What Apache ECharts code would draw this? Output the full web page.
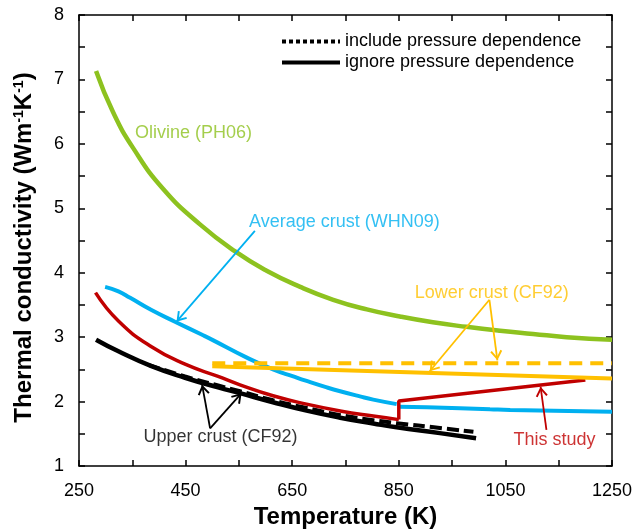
<!DOCTYPE html>
<html>
<head>
<meta charset="utf-8">
<script src="https://cdn.jsdelivr.net/npm/echarts@6/dist/echarts.min.js"></script>
<style>
  html, body { margin: 0; padding: 0; background: #fff; }
  #chart { width: 634px; height: 531px; }
</style>
</head>
<body>
<div id="chart"></div>
<script>
// temperature (K) / conductivity (W m-1 K-1)
const olivineT = [282, 314, 352, 408, 477, 543, 602, 665, 727, 790, 852, 914, 977, 1040, 1102, 1165, 1250];
const olivineK = [7.13, 6.49, 5.93, 5.30, 4.75, 4.33, 4.03, 3.78, 3.58, 3.43, 3.32, 3.23, 3.16, 3.10, 3.05, 3.0, 2.96];

const avgLowT = [299, 324, 346, 386, 430, 480, 502, 563, 614, 652, 677, 715, 740, 777, 802, 846];
const avgLowK = [3.78, 3.71, 3.61, 3.42, 3.24, 3.04, 2.95, 2.69, 2.50, 2.39, 2.32, 2.22, 2.16, 2.08, 2.03, 1.96];
const avgHighT = [850, 902, 965, 1021, 1059, 1250];
const avgHighK = [1.92, 1.91, 1.896, 1.88, 1.87, 1.843];

const studyLowT = [281, 324, 386, 449, 511, 552, 614, 677, 740, 802, 850];
const studyLowK = [3.69, 3.25, 2.85, 2.58, 2.39, 2.26, 2.09, 1.96, 1.855, 1.775, 1.72];
const studyHighT = [850, 850, 1200];
const studyHighK = [1.72, 2.01, 2.335];

const upperT = [282, 324, 386, 449, 511, 552, 614, 677, 740, 802, 846, 927, 995];
const upperK = [2.96, 2.78, 2.55, 2.37, 2.22, 2.13, 1.99, 1.86, 1.75, 1.66, 1.60, 1.51, 1.43];
const upperPT = [380, 449, 511, 552, 614, 677, 740, 802, 846, 927, 990];
const upperPK = [2.57, 2.39, 2.25, 2.16, 2.02, 1.90, 1.79, 1.71, 1.665, 1.59, 1.53];

const lowerT = [500, 1250];
const lowerK = [2.55, 2.36];
const lowerPT = [500, 1250];
const lowerPK = [2.595, 2.595];

const xTicks = [250, 450, 650, 850, 1050, 1250];
const yTicks = [1, 2, 3, 4, 5, 6, 7, 8];

// annotation anchors (data coords)
const noteText = ['Olivine (PH06)', 'Average crust (WHN09)', 'Lower crust (CF92)', 'Upper crust (CF92)', 'This study'];
const noteAt = [[355, 6.17], [569, 4.79], [880, 3.69], [371, 1.455], [1065, 1.404]];
const noteColor = ['#8DC21F', '#00B0F0', '#FFC000', '#000000', '#C00000'];
const arrows = [
  [[580, 4.65], [433, 3.24], '#00B0F0'],
  [[1020, 3.58], [908, 2.47], '#FFC000'],
  [[1020, 3.58], [1035, 2.64], '#FFC000'],
  [[496, 1.585], [481, 2.26], '#000000'],
  [[496, 1.585], [555, 2.13], '#000000'],
  [[1127, 1.56], [1116, 2.23], '#C00000']
];

const zip = (xs, ys) => xs.map((x, i) => [x, ys[i]]);
const font = 'Liberation Sans, Arial, sans-serif';
const arrowHead = 'path://M5,-10 L5.01,-10 L5,-9.99 Z M5,0 L10,9 L8.6,10 L5,3.4 L1.4,10 L0,9 Z';

function curve(name, data, color, width, extra) {
  return Object.assign({
    name: name, type: 'line', data: data, symbol: 'none', smooth: 0.5,
    lineStyle: { color: color, width: width }, itemStyle: { color: color },
    silent: true, animation: false
  }, extra || {});
}

const axisLine = { lineStyle: { color: '#000', width: 1.5 } };
const axisTick = { inside: true, length: 6, lineStyle: { color: '#000', width: 1.5 } };

const chart = echarts.init(document.getElementById('chart'));
chart.setOption({
  textStyle: { fontFamily: font },
  grid: { left: 79, right: 22, top: 15, bottom: 65, containLabel: false, outerBoundsMode: 'none' },
  legend: {
    data: ['include pressure dependence', 'ignore pressure dependence'],
    orient: 'vertical', left: 275, top: 26,
    itemWidth: 58, itemHeight: 14, itemGap: 0,
    lineStyle: { width: 4 },
    itemStyle: { opacity: 0 },
    textStyle: { fontSize: 18, color: '#000', lineHeight: 21, fontFamily: font },
    selectedMode: false
  },
  xAxis: [{
    type: 'value', min: 250, max: 1250, interval: 100, position: 'bottom',
    name: 'Temperature (K)', nameLocation: 'middle', nameGap: 37,
    nameTextStyle: { fontSize: 24, fontWeight: 'bold', color: '#000', fontFamily: font },
    axisLine: axisLine, axisTick: axisTick, splitLine: { show: false },
    axisLabel: { fontSize: 18, color: '#000', margin: 16,
      formatter: v => xTicks.indexOf(v) >= 0 ? String(v) : '' }
  }, {
    type: 'value', min: 250, max: 1250, interval: 100, position: 'top',
    axisLine: axisLine, axisTick: axisTick, splitLine: { show: false },
    axisLabel: { show: false }
  }],
  yAxis: [{
    type: 'value', min: 1, max: 8, interval: 0.5, position: 'left',
    name: 'Thermal conductivity (Wm{sup|-1}K{sup|-1})', nameLocation: 'middle', nameGap: 43,
    nameTextStyle: {
      fontSize: 24, fontWeight: 'bold', color: '#000', fontFamily: font,
      padding: [0, 14, 0, 0],
      rich: { sup: { fontSize: 14, fontWeight: 'bold', color: '#000', verticalAlign: 'top', fontFamily: font } }
    },
    axisLine: axisLine, axisTick: axisTick, splitLine: { show: false },
    axisLabel: { fontSize: 18, color: '#000', margin: 15,
      formatter: v => yTicks.indexOf(v) >= 0 ? String(v) : '' }
  }, {
    type: 'value', min: 1, max: 8, interval: 0.5, position: 'right',
    axisLine: axisLine, axisTick: axisTick, splitLine: { show: false },
    axisLabel: { show: false }
  }],
  series: [
    // legend-only entries
    { name: 'include pressure dependence', type: 'line', data: [], symbol: 'none',
      lineStyle: { color: '#000', width: 4, type: [4, 3] }, itemStyle: { color: '#000' } },
    { name: 'ignore pressure dependence', type: 'line', data: [], symbol: 'none',
      lineStyle: { color: '#000', width: 4 }, itemStyle: { color: '#000' } },

    curve('avg-low', zip(avgLowT, avgLowK), '#00B0F0', 4),
    curve('avg-high', zip(avgHighT, avgHighK), '#00B0F0', 4),
    curve('upper', zip(upperT, upperK), '#000', 4.5),
    curve('upper-p', zip(upperPT, upperPK), '#000', 4,
      { lineStyle: { color: '#000', width: 4, type: [12, 5] } }),
    curve('study-low', zip(studyLowT, studyLowK), '#C00000', 3.5),
    curve('study-high', zip(studyHighT, studyHighK), '#C00000', 3.5, { smooth: false }),
    curve('lower', zip(lowerT, lowerK), '#FFC000', 4, { smooth: false }),
    curve('lower-p', zip(lowerPT, lowerPK), '#FFC000', 4,
      { smooth: false, lineStyle: { color: '#FFC000', width: 4, type: [13, 8] } }),
    curve('olivine', zip(olivineT, olivineK), '#8DC21F', 4.5),

    {
      name: 'notes', type: 'scatter', symbolSize: 0, silent: true, animation: false,
      data: noteAt.map((p, i) => ({
        value: p,
        label: { show: true, position: 'right', distance: 0, formatter: noteText[i],
          color: noteColor[i], fontSize: 18, fontFamily: font }
      })),
      markLine: {
        silent: true, animation: false,
        symbol: ['none', arrowHead], symbolSize: [12, 20],
        label: { show: false },
        data: arrows.map(a => [
          { coord: a[0], lineStyle: { color: a[2], width: 1.8, type: 'solid' } },
          { coord: a[1] }
        ])
      }
    }
  ]
});
</script>
</body>
</html>
